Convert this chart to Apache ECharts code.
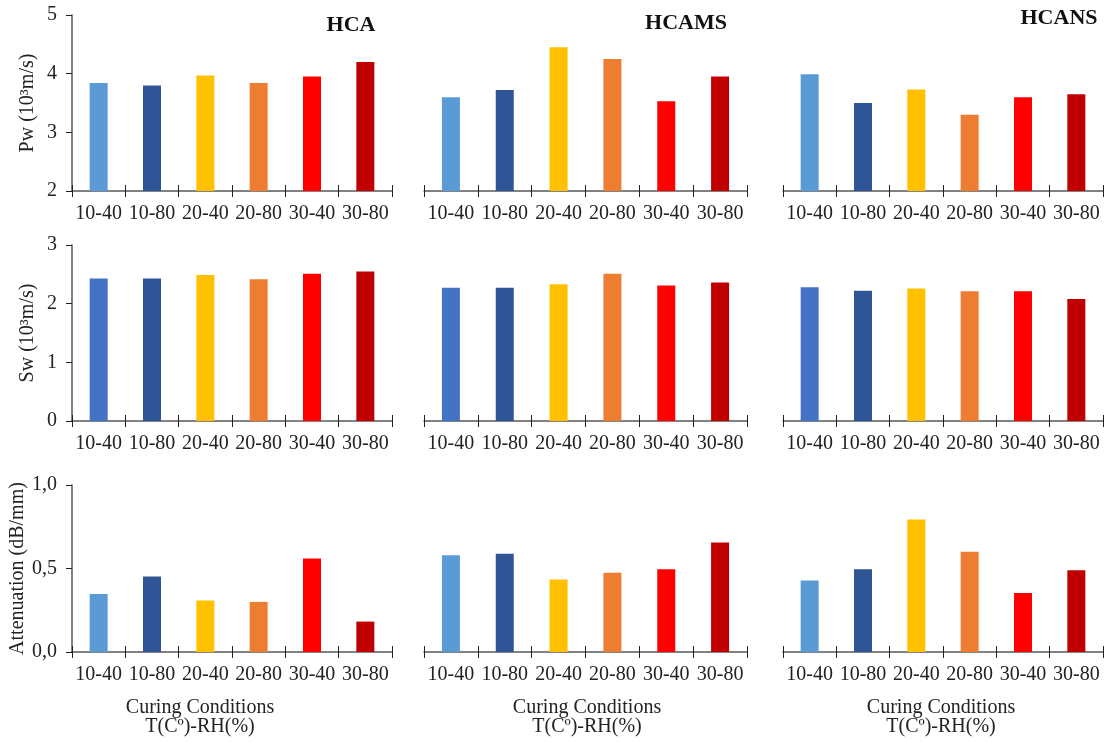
<!DOCTYPE html>
<html>
<head>
<meta charset="utf-8">
<script src="https://cdn.jsdelivr.net/npm/echarts@6/dist/echarts.min.js"></script>
<style>
html,body{margin:0;padding:0;background:#fff;}
#chart{width:1107px;height:742px;}
</style>
</head>
<body>
<div id="chart"></div>
<script>
// ---- data ----
var categories = ['10-40','10-80','20-40','20-80','30-40','30-80'];
var panelTitles = ['HCA','HCAMS','HCANS'];

var pwHCA   = [3.84, 3.80, 3.97, 3.84, 3.95, 4.20];
var pwHCAMS = [3.60, 3.72, 4.45, 4.25, 3.53, 3.95];
var pwHCANS = [3.99, 3.50, 3.73, 3.30, 3.60, 3.65];

var swHCA   = [2.43, 2.43, 2.49, 2.415, 2.51, 2.55];
var swHCAMS = [2.27, 2.27, 2.33, 2.51, 2.31, 2.36];
var swHCANS = [2.28, 2.22, 2.26, 2.21, 2.21, 2.08];

var attHCA   = [0.348, 0.452, 0.308, 0.300, 0.560, 0.182];
var attHCAMS = [0.580, 0.588, 0.434, 0.475, 0.495, 0.655];
var attHCANS = [0.428, 0.495, 0.794, 0.600, 0.354, 0.489];

var yNames = ['Pw (10³m/s)', 'Sw (10³m/s)', 'Attenuation (dB/mm)'];
var xName1 = 'Curing Conditions';
var xName2 = 'T(Cº)-RH(%)';

var colorsA = ['#5B9BD5','#2F5597','#FFC000','#ED7D31','#FF0000','#C00000'];
var colorsB = ['#4472C4','#2F5597','#FFC000','#ED7D31','#FF0000','#C00000'];

// ---- layout ----
var FONT = '"Liberation Serif","Times New Roman",serif';
var rows = [
  {top:15,  height:176, min:2, max:5, interval:1, data:[pwHCA,pwHCAMS,pwHCANS], colors:colorsA, nameGap:34},
  {top:245, height:176, min:0, max:3, interval:1, data:[swHCA,swHCAMS,swHCANS], colors:colorsB, nameGap:34},
  {top:485, height:167, min:0, max:1, interval:0.5, data:[attHCA,attHCAMS,attHCANS], colors:colorsA, nameGap:44}
];
var cols = [{left:72,width:320},{left:424,width:323},{left:783,width:320}];

var grids=[], xAxes=[], yAxes=[], series=[], titles=[];
var gi=0;
rows.forEach(function(r, ri){
  cols.forEach(function(c, ci){
    grids.push({left:c.left, top:r.top, width:c.width, height:r.height, containLabel:false});
    xAxes.push({
      type:'category', gridIndex:gi, data:categories, position:'bottom',
      axisLine:{show:true, lineStyle:{color:'#595959', width:1.5}},
      axisTick:{show:true, length:6, lineStyle:{color:'#222', width:1}},
      axisLabel:{show:true, fontFamily:FONT, fontSize:20, color:'#222', margin:13, interval:0}
    });
    // companion axis: upward half of the crossing ticks
    xAxes.push({
      type:'category', gridIndex:gi, data:categories, position:'bottom',
      axisLine:{show:false},
      axisTick:{show:true, inside:true, length:6, lineStyle:{color:'#222', width:1}},
      axisLabel:{show:false}
    });
    var show = ci===0;
    yAxes.push({
      type:'value', gridIndex:gi, min:r.min, max:r.max, interval:r.interval, show:show,
      name: show ? yNames[ri] : '', nameLocation:'middle', nameGap:r.nameGap, nameRotate:90,
      nameTextStyle:{fontFamily:FONT, fontSize:20, color:'#222'},
      axisLine:{show:true, lineStyle:{color:'#595959', width:1.5}},
      axisTick:{show:true, length:6, lineStyle:{color:'#222'}},
      splitLine:{show:false},
      axisLabel:{fontFamily:FONT, fontSize:20, color:'#222', margin:15,
        formatter: ri===2 ? function(v){return v.toFixed(1).replace('.',',');} : function(v){return String(v);}}
    });
    series.push({
      type:'bar', xAxisIndex:gi*2, yAxisIndex:gi, barWidth:18,
      data: r.data[ci].map(function(v,k){return {value:v, itemStyle:{color:r.colors[k]}};}),
      silent:true
    });
    gi++;
  });
});

var tStyle = {fontFamily:FONT, fontSize:22, fontWeight:'bold', color:'#111'};
titles.push({text:panelTitles[0], left:346, top:9, textAlign:'center', textStyle:tStyle});
titles.push({text:panelTitles[1], left:681, top:7, textAlign:'center', textStyle:tStyle});
titles.push({text:panelTitles[2], left:1054, top:2, textAlign:'center', textStyle:tStyle});
[195, 582, 936].forEach(function(cx){
  var s = {fontFamily:FONT, fontSize:20, fontWeight:'normal', color:'#222'};
  titles.push({text:xName1, left:cx, top:693, textAlign:'center', textStyle:s});
  titles.push({text:xName2, left:cx, top:712, textAlign:'center', textStyle:s});
});

var chart = echarts.init(document.getElementById('chart'), null, {renderer:'canvas'});
chart.setOption({
  backgroundColor:'#fff',
  animation:false,
  title:titles,
  grid:grids,
  xAxis:xAxes,
  yAxis:yAxes,
  series:series
});
</script>
</body>
</html>
